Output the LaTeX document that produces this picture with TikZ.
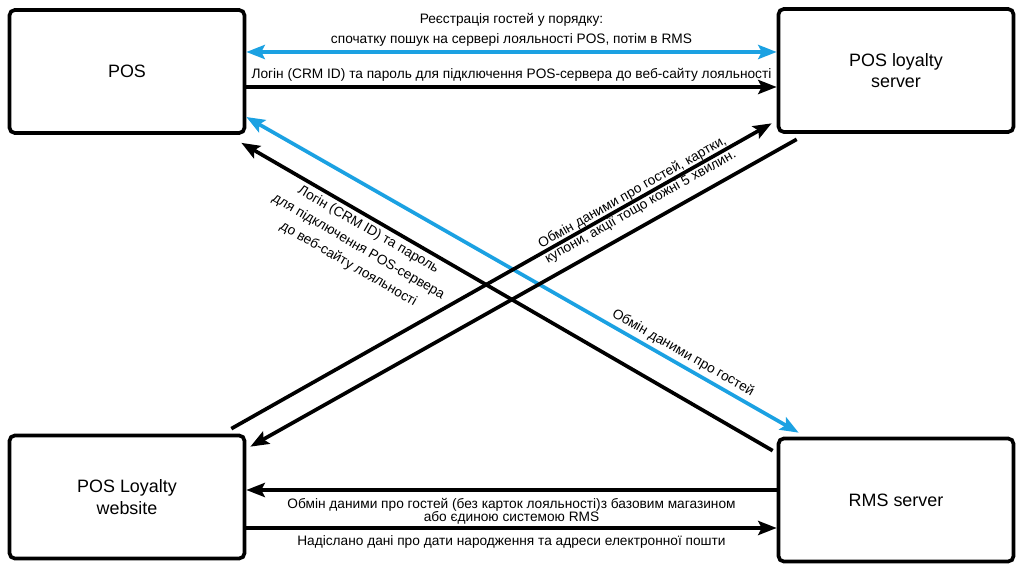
\documentclass[tikz,border=0pt]{standalone}
\usepackage{fontspec}
\setmainfont{Liberation Sans}
\usetikzlibrary{arrows.meta}
\definecolor{syncblue}{RGB}{27,161,226}
\begin{document}
\begin{tikzpicture}[x=0.02cm,y=-0.02cm,
 sysbox/.style={draw,line width=2.1pt,rounded corners=3pt,minimum width=4.7cm,minimum height=2.46cm,align=center,font=\fontsize{10.2}{12.3}\selectfont},
 flow/.style={line width=2.1pt,>={Stealth[length=10.5pt,width=8pt,inset=2pt]}},
 note/.style={text=black,align=center,inner sep=2pt,font=\fontsize{7.8}{11.5}\selectfont}]
 \useasboundingbox (0,0) rectangle (1024,570);
 %
 \node[sysbox] (pos) at (127,71.5) {POS};
 \node[sysbox] (srv) at (896,70.5) {POS loyalty\\server};
 \node[sysbox] (web) at (127,497) {POS Loyalty\\website};
 \node[sysbox] (rms) at (896,500) {RMS server};
 %
 \draw[flow,<->,syncblue] (pos.east |- 0,52) -- (srv.west |- 0,52)
   node[note,midway,above] {Реєстрація гостей у порядку:\\спочатку пошук на сервері лояльності POS, потім в RMS};
 \draw[flow,->] (pos.east |- 0,87) -- (srv.west |- 0,87)
   node[note,midway,above] {Логін (CRM ID) та пароль для підключення POS-сервера до веб-сайту лояльності};
 %
 \draw[flow,<->,syncblue] (pos.east |- 0,117) -- ([shift={(22,-4)}]rms.north west)
   node[note,pos=0.78,sloped,above] {Обмін даними про гостей};
 \draw[flow,<-] ([shift={(-5,8)}]pos.south east) -- ([shift={(-4,14)}]rms.north west)
   node[note,pos=0.25,sloped,below,font=\fontsize{7.8}{11.3}\selectfont] {Логін (CRM ID) та пароль\\для підключення POS-сервера\\до веб-сайту лояльності};
 %
 \draw[flow,->] ([shift={(-15,-5)}]web.north east) -- ([shift={(-5,-10.5)}]srv.south west)
   node[note,pos=0.75,sloped,font=\fontsize{7.8}{9.4}\selectfont] {Обмін даними про гостей, картки,\\купони, акції тощо кожні 5 хвилин.};
 \draw[flow,->] ([shift={(20,5.5)}]srv.south west) -- ([shift={(4,13)}]web.north east);
 %
 \draw[flow,->] (rms.west |- 0,490) -- (web.east |- 0,490)
   node[note,midway,below=1.5pt,font=\fontsize{7.8}{7.5}\selectfont] {Обмін даними про гостей (без карток лояльності)з базовим магазином\\або єдиною системою RMS};
 \draw[flow,->] (web.east |- 0,528) -- (rms.west |- 0,528)
   node[note,midway,below=1.5pt] {Надіслано дані про дати народження та адреси електронної пошти};
\end{tikzpicture}
\end{document}
